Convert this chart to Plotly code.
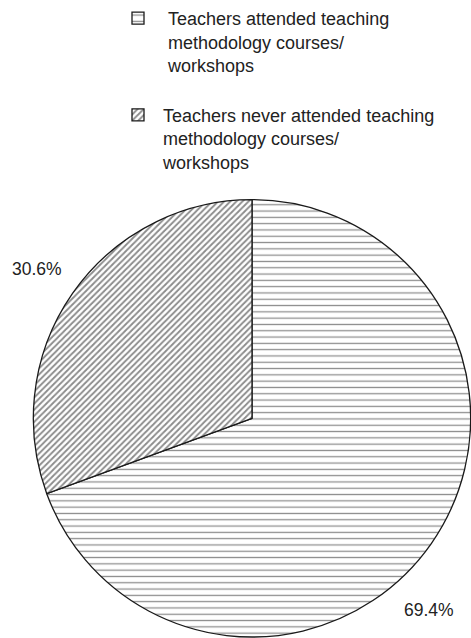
import plotly.graph_objects as go

labels = ["\u00a0Teachers attended teaching<br>\u00a0methodology courses/<br>\u00a0workshops",
          "Teachers never attended teaching<br>methodology courses/<br>workshops"]
values = [69.4, 30.6]
pct_text = ["69.4%", "30.6%"]
shapes = ["-", "/"]
pattern_sizes = [6.3, 4.3]
solidities = [0.2, 0.45]

fig = go.Figure()
fig.add_trace(go.Pie(
    labels=[labels[0] + "<br> ", labels[1]],
    values=values,
    sort=False,
    direction="clockwise",
    rotation=0,
    textinfo="none",
    hoverinfo="label+percent",
    marker=dict(
        colors=["white", "white"],
        line=dict(color="#1a1a1a", width=1.3),
        pattern=dict(shape=shapes, fgcolor="#1a1a1a", bgcolor="white",
                     size=pattern_sizes, solidity=solidities, fillmode="overlay"),
    ),
    domain=dict(x=[33/471, 1.0], y=[1/638, 1 - 199/638]),
))

label_pos = [(429/471, 1 - 610/638), (37/471, 1 - 268/638)]
for t, (x, y) in zip(pct_text, label_pos):
    fig.add_annotation(text=t, x=x, y=y, xref="paper", yref="paper",
                       showarrow=False, xanchor="center", yanchor="middle",
                       font=dict(size=17.5, color="#222222", family="Liberation Sans, Arial"))

fig.update_layout(
    width=471, height=638,
    margin=dict(l=0, r=0, t=0, b=0),
    paper_bgcolor="white",
    plot_bgcolor="white",
    font=dict(family="Liberation Sans, Arial", size=18, color="#222222"),
    showlegend=True,
    legend=dict(x=113/471, y=1 + 1/638, xanchor="left", yanchor="top",
                orientation="v", valign="top", bgcolor="rgba(0,0,0,0)",
                font=dict(size=18), itemwidth=40),
)
fig.write_html("out.html")
